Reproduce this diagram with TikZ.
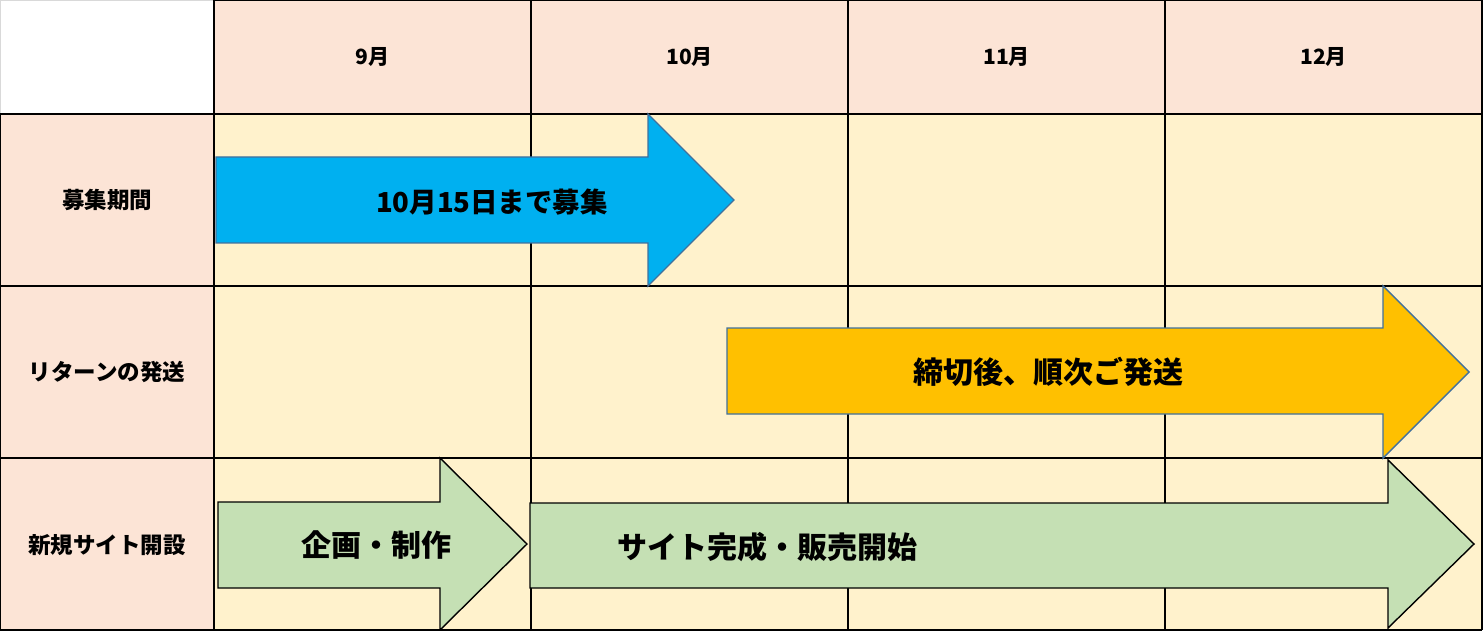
\documentclass[tikz,border=0pt]{standalone}
\usepackage{fontspec}
\setmainfont{Noto Sans CJK JP}
\usepackage{tikz}
\usepackage{xcolor}

\definecolor{peach}{HTML}{FCE4D6}
\definecolor{cream}{HTML}{FFF2CC}
\definecolor{skyblue}{HTML}{00B0F0}
\definecolor{amber}{HTML}{FFC000}
\definecolor{sage}{HTML}{C5E0B4}
\definecolor{steel}{HTML}{41719C}

\tikzset{
  month/.style={font=\fontsize{21}{25}\selectfont\bfseries},
  rowlabel/.style={font=\fontsize{22.5}{27}\selectfont\bfseries},
  bartext/.style={font=\fontsize{30}{36}\selectfont\bfseries},
  grid line/.style={line width=1.6pt},
  bluebar/.style={fill=skyblue, draw=steel, line width=1.4pt},
  amberbar/.style={fill=amber, draw=steel, line width=1.4pt},
  greenbar/.style={fill=sage, draw=black, line width=1.4pt}
}

\begin{document}
\begin{tikzpicture}[x=1pt,y=-1pt]
  \useasboundingbox (0,0) rectangle (1484,631);
  % backgrounds
  \fill[white] (0,0) rectangle (214,114);
  \fill[peach] (214,0) rectangle (1482,114);
  \fill[peach] (0,114) rectangle (214,630);
  \fill[cream] (214,114) rectangle (1482,630);
  % grid
  \draw[gray!30, line width=1.6pt] (0,114) -- (0,0) -- (214,0);
  \draw[grid line] (214,0) -- (1482,0);
  \foreach \y in {114,286,458,630}
    \draw[grid line] (0,\y) -- (1482,\y);
  \draw[grid line] (0,114) -- (0,630);
  \foreach \x in {214,531,848,1165,1482}
    \draw[grid line] (\x,0) -- (\x,630);
  % headers
  \foreach \m [count=\i] in {9,10,11,12}
    \node[month] (m\m) at ({214+317*(\i-0.5)},57) {\m 月};
  \node[rowlabel] (boshu) at (107,200) {募集期間};
  \node[rowlabel] (return) at (107,372) {リターンの発送};
  \node[rowlabel] (site) at (107,545) {新規サイト開設};
  % arrows
  \draw[bluebar] (216,157) -- (648,157) -- (648,114) -- (734,200)
    -- (648,286) -- (648,243) -- (216,243) -- cycle;
  \node[bartext, font=\fontsize{27.5}{33}\selectfont\bfseries] (boshutext) at (492,202) {10月15日まで募集};
  \draw[amberbar] (727,328) -- (1383,328) -- (1383,286) -- (1469,372)
    -- (1383,458) -- (1383,414) -- (727,414) -- cycle;
  \node[bartext] (hassotext) at (1048,372) {締切後、順次ご発送};
  \draw[greenbar] (218,502) -- (440,502) -- (440,458) -- (527,544)
    -- (440,630) -- (440,588) -- (218,588) -- cycle;
  \node[bartext] (kikaku) at (376,545) {企画・制作};
  \draw[greenbar] (530,503) -- (1388,503) -- (1388,460) -- (1474,544)
    -- (1388,628) -- (1388,588) -- (530,588) -- cycle;
  \node[bartext] (kansei) at (767,547) {サイト完成・販売開始};
\end{tikzpicture}
\end{document}
